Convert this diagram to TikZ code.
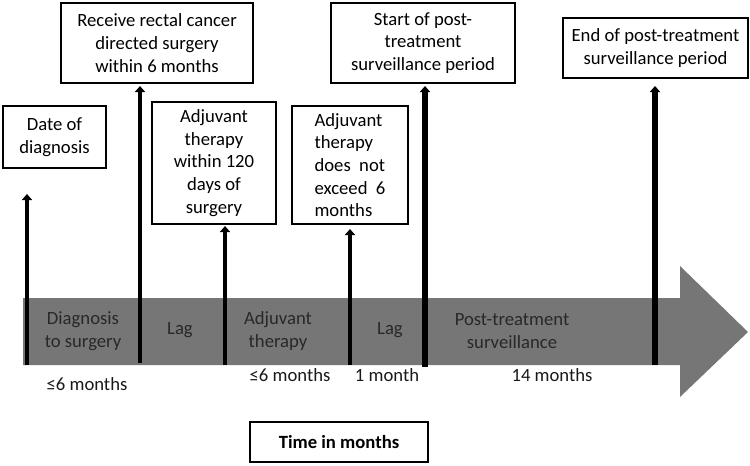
\documentclass[tikz,border=0pt]{standalone}
\usepackage{fontspec}
\setmainfont{Carlito}
\usetikzlibrary{arrows.meta}
\definecolor{BandGray}{RGB}{118,118,118}
\definecolor{PhaseText}{RGB}{40,40,40}

\begin{document}
\begin{tikzpicture}[
        x=0.75pt, y=-0.75pt,
        box/.style={
            draw=black,
            fill=white,
            line width=0.8pt,
            align=center,
            inner sep=2pt,
            font=\fontsize{14}{17}\selectfont
        },
        keybox/.style={
            box,
            line width=1.5pt
        },
        phase/.style={
            text=PhaseText,
            align=center,
            font=\fontsize{14}{17}\selectfont
        },
        span/.style={
            text=black!90,
            font=\fontsize{14}{17}\selectfont
        },
        event/.style={
            line width=3.6pt,
            -{Triangle[width=7.5pt,length=4.5pt]}
        }
    ]
        \useasboundingbox (0,0) rectangle (750,465);

        % timeline band
        \fill[BandGray] (23,298) -- (680,298) -- (680,266) -- (748,332)
            -- (680,397) -- (680,365) -- (23,365) -- cycle;

        % event boxes
        \node[box, minimum width=103*0.75pt, minimum height=62*0.75pt] (dx) at (54.5,137) {Date of\\diagnosis};
        \node[keybox, minimum width=192*0.75pt, minimum height=80*0.75pt] (surg) at (157,43) {Receive rectal cancer\\directed surgery\\within 6 months};
        \node[box, minimum width=124*0.75pt, minimum height=122*0.75pt] (adj) at (214,163) {Adjuvant\\therapy\\within 120\\days of\\surgery};
        \node[box, minimum width=116*0.75pt, minimum height=118*0.75pt, align=left] (lim) at (350,165) {Adjuvant\\therapy\\does~ not\\exceed~ 6\\months};
        \node[keybox, minimum width=184*0.75pt, minimum height=80*0.75pt] (start) at (423,43) {Start of post-\\treatment\\surveillance period};
        \node[keybox, minimum width=185*0.75pt, minimum height=60*0.75pt] (end) at (655.5,48) {End of post-treatment\\surveillance period};
        \node[box, line width=1pt, minimum width=178*0.75pt, minimum height=40*0.75pt, font=\fontsize{14}{17}\selectfont\bfseries] (time) at (339,442) {Time in months};

        % event markers
        \coordinate (b1) at (27,365);   \coordinate (t1) at (27,194);
        \coordinate (b2) at (140,363);  \coordinate (t2) at (140,86);
        \coordinate (b3) at (225,365);  \coordinate (t3) at (225,226);
        \coordinate (b4) at (350,365);  \coordinate (t4) at (350,229);
        \coordinate (b5) at (425,367);  \coordinate (t5) at (425,86);
        \coordinate (b6) at (655,365);  \coordinate (t6) at (655,86);
        \draw[event] (b1) -- (t1);
        \draw[event] (b2) -- (t2);
        \draw[event] (b3) -- (t3);
        \draw[event] (b4) -- (t4);
        \draw[event, line width=4.2pt] (b5) -- (t5);
        \draw[event, line width=4.2pt] (b6) -- (t6);

        % phases on the band
        \node[phase] (p1) at (83,331) {Diagnosis\\to surgery};
        \node[phase] (p2) at (180,330) {Lag};
        \node[phase] (p3) at (278,331) {Adjuvant\\therapy};
        \node[phase] (p4) at (390,330) {Lag};
        \node[phase] (p5) at (512,331) {Post-treatment\\surveillance};

        % durations
        \node[span] (d1) at (87,384) {≤6 months};
        \node[span] (d3) at (290,375) {≤6 months};
        \node[span] (d4) at (387,375) {1 month};
        \node[span] (d5) at (552,375) {14 months};
    \end{tikzpicture}
\end{document}
